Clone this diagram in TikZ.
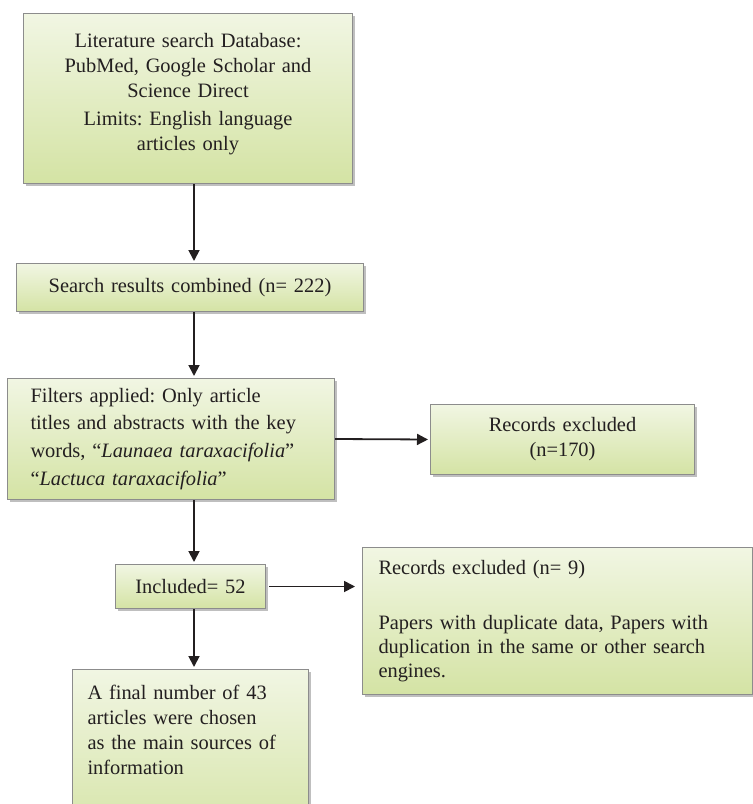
\documentclass[tikz,border=0pt]{standalone}
\usepackage{xcolor}
\usepackage{fontspec}
\setmainfont{Liberation Serif}
\frenchspacing
\usepackage{tikz}
\usetikzlibrary{arrows.meta,positioning,shadows}
\definecolor{boxTop}{HTML}{F1F6E3}
\definecolor{boxBottom}{HTML}{D4E3A4}
\definecolor{boxLine}{HTML}{8C8C8C}
\definecolor{ink}{HTML}{231F20}
\tikzset {
	stage/.style={rectangle, draw=boxLine, line width=1bp, top color=boxTop, bottom color=boxBottom,
					drop shadow={shadow xshift=2.5bp, shadow yshift=-2.5bp, fill=black!25, opacity=1},
					anchor=north west, text=ink, inner xsep=10bp, inner ysep=4bp,
					font=\fontsize{20.5}{25}\selectfont},
	flow/.style={draw=ink, line width=1.8bp, -{Triangle[length=11bp,width=11bp]}, shorten >=2bp}
}

\begin{document}
\begin{tikzpicture}[x=1bp, y=1bp]
					\useasboundingbox (0,0) rectangle (753,-804);
					\coordinate (spine) at (194,0);
					% boxes
					\node [stage, minimum width=329bp, minimum height=170bp, text width=309bp, align=center, text depth=116bp] (search) at (23,-13)
						{Literature search Database:\\ PubMed, Google Scholar and\\ Science Direct\\[3bp] Limits: English language\\ articles only};
					\node [stage, minimum width=347bp, minimum height=48bp, text width=327bp, align=center] (combined) at (16,-263)
						{Search results combined (n= 222)};
					\node [stage, minimum width=327bp, minimum height=121bp, inner xsep=23bp, text width=281bp, align=left,
						font=\fontsize{20.5}{28}\selectfont] (filters) at (7,-378)
						{Filters applied: Only article\\ titles and abstracts with the key\\ words, “\textit{Launaea taraxacifolia}”\\ “\textit{Lactuca taraxacifolia}”};
					\node [stage, minimum width=264bp, minimum height=70bp, text width=244bp, align=center] (excluded1) at (430,-404)
						{Records excluded\\ (n=170)};
					\node [stage, minimum width=150bp, minimum height=44bp, text width=130bp, align=center] (included) at (115,-564)
						{Included= 52};
					\node [stage, minimum width=390bp, minimum height=147bp, inner xsep=16bp, text width=358bp, align=left,
						font=\fontsize{20.5}{24}\selectfont] (excluded2) at (362,-547)
						{Records excluded (n= 9)\\[31bp] Papers with duplicate data, Papers with\\ duplication in the same or other search\\ engines.};
					\node [stage, minimum width=236bp, inner xsep=15bp, inner ysep=16bp, text width=206bp, align=left,
						text depth=130bp] (final) at (72,-669)
						{A final number of 43\\ articles were chosen\\ as the main sources of\\ information};
					% connectors
					\draw [flow] (search.south -| spine) -- (combined.north -| spine);
					\draw [flow] (combined.south -| spine) -- (filters.north -| spine);
					\draw [flow] (filters.east) -- (excluded1.west);
					\draw [flow] (filters.south -| spine) -- (included.north -| spine);
					\draw [flow, shorten <=3bp, shorten >=7bp] (included.east) -- (included.east -| excluded2.west);
					\draw [flow] (included.south -| spine) -- (final.north -| spine);
\end{tikzpicture}
\end{document}
